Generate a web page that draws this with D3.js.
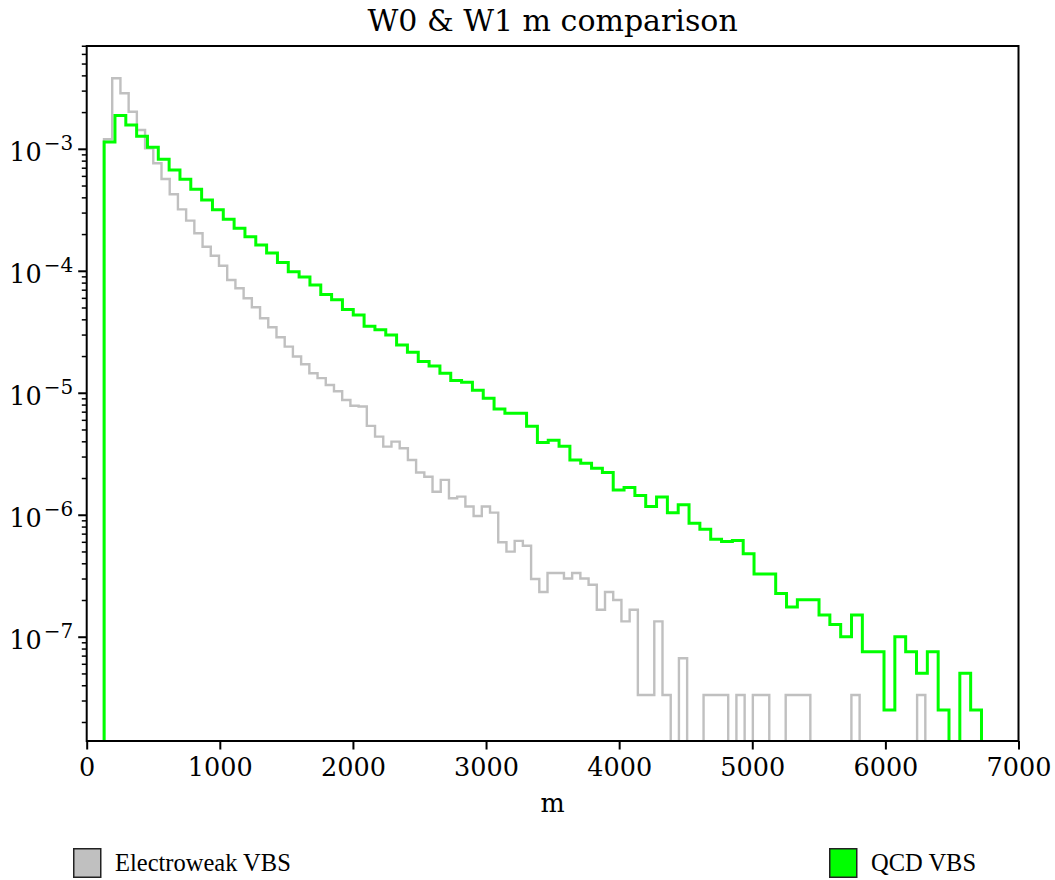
<!DOCTYPE html>
<html>
<head>
<meta charset="utf-8">
<script src="https://cdn.jsdelivr.net/npm/d3@7"></script>
<style>
  html, body { margin: 0; padding: 0; background: #ffffff; }
  svg { display: block; }
</style>
</head>
<body>
<svg id="chart" width="1055" height="880"></svg>
<script>
// Density histograms of the W0 & W1 invariant mass (m), one entry per bin.
const titleText = "W0 & W1 m comparison";
const xLabel = "m";
const xTicks = [0, 1000, 2000, 3000, 4000, 5000, 6000, 7000];
const yMajorExponents = [-3, -4, -5, -6, -7];

// Electroweak VBS: 100 equal bins spanning [ewkStart, ewkEnd]
const ewkStart = 130;
const ewkEnd = 6300;
const ewkDensity = [
  1.21e-3, 3.82e-3, 2.88e-3, 2.03e-3, 1.44e-3, 1.02e-3, 7.68e-4, 5.71e-4, 4.28e-4, 3.22e-4,
  2.60e-4, 2.05e-4, 1.59e-4, 1.34e-4, 1.11e-4, 8.49e-5, 7.26e-5, 6.01e-5, 5.07e-5, 4.12e-5,
  3.48e-5, 2.88e-5, 2.41e-5, 2.00e-5, 1.73e-5, 1.46e-5, 1.33e-5, 1.17e-5, 1.04e-5, 8.8e-6,
  7.9e-6, 7.8e-6, 5.4e-6, 4.41e-6, 3.65e-6, 4.01e-6, 3.54e-6, 2.84e-6, 2.24e-6, 2.07e-6,
  1.56e-6, 1.95e-6, 1.38e-6, 1.42e-6, 1.18e-6, 9.87e-7, 1.18e-6, 1.05e-6, 6.01e-7, 5.03e-7,
  6.16e-7, 5.63e-7, 3.0e-7, 2.35e-7, 3.36e-7, 3.36e-7, 3.03e-7, 3.36e-7, 3.03e-7, 2.69e-7,
  1.68e-7, 2.35e-7, 2.02e-7, 1.35e-7, 1.68e-7, 3.36e-8, 3.36e-8, 1.35e-7, 3.36e-8, 0,
  6.73e-8, 0, 0, 3.36e-8, 3.36e-8, 3.36e-8, 0, 3.36e-8, 0, 3.36e-8,
  3.36e-8, 0, 0, 3.36e-8, 3.36e-8, 3.36e-8, 0, 0, 0, 0,
  0, 3.36e-8, 0, 0, 0, 0, 0, 0, 0, 3.36e-8
];

// QCD VBS: 81 equal bins spanning [qcdStart, qcdEnd]
const qcdStart = 131;
const qcdEnd = 6722;
const qcdDensity = [
  1.15e-3, 1.89e-3, 1.58e-3, 1.28e-3, 1.04e-3, 8.28e-4, 6.77e-4, 5.68e-4, 4.70e-4, 3.84e-4,
  3.20e-4, 2.67e-4, 2.25e-4, 1.92e-4, 1.64e-4, 1.41e-4, 1.18e-4, 9.90e-5, 8.98e-5, 7.72e-5,
  6.45e-5, 5.85e-5, 4.86e-5, 4.38e-5, 3.55e-5, 3.32e-5, 3.00e-5, 2.49e-5, 2.17e-5, 1.82e-5,
  1.67e-5, 1.46e-5, 1.27e-5, 1.23e-5, 1.06e-5, 9.10e-6, 7.43e-6, 6.86e-6, 6.86e-6, 5.36e-6,
  3.95e-6, 4.12e-6, 3.68e-6, 2.84e-6, 2.67e-6, 2.43e-6, 2.24e-6, 1.61e-6, 1.69e-6, 1.45e-6,
  1.18e-6, 1.41e-6, 1.05e-6, 1.22e-6, 8.60e-7, 7.68e-7, 6.36e-7, 6.08e-7, 6.22e-7, 4.84e-7,
  3.30e-7, 3.30e-7, 2.28e-7, 1.77e-7, 2.03e-7, 2.03e-7, 1.52e-7, 1.27e-7, 1.01e-7, 1.52e-7,
  7.6e-8, 7.6e-8, 2.53e-8, 1.01e-7, 7.6e-8, 5.07e-8, 7.6e-8, 2.53e-8, 0, 5.07e-8,
  2.53e-8
];

const legendItems = [
  { label: "Electroweak VBS", color: "#c0c0c0" },
  { label: "QCD VBS", color: "#00ff00" }
];

const svg = d3.select("#chart");
const plot = { left: 86.7, right: 1018.5, top: 46, bottom: 741 };

const x = d3.scaleLinear().domain([0, 7000]).range([plot.left, plot.right]);
const y = d3.scaleLog().domain([1.41e-8, 7.03e-3]).range([plot.bottom, plot.top]);

const serif = "'DejaVu Serif', serif";

svg.append("defs").append("clipPath").attr("id", "plot-clip")
  .append("rect")
  .attr("x", plot.left).attr("y", plot.top)
  .attr("width", plot.right - plot.left).attr("height", plot.bottom - plot.top);

// Step outline of a histogram: up from the baseline, across each bin, back down.
function stepPath(values, start, end) {
  const n = values.length;
  const w = (end - start) / n;
  const floor = 1e-12; // empty bins drop below the visible range
  const yv = v => y(v > 0 ? v : floor);
  const p = d3.path();
  p.moveTo(x(start), yv(floor));
  values.forEach((v, i) => {
    p.lineTo(x(start + i * w), yv(v));
    p.lineTo(x(start + (i + 1) * w), yv(v));
  });
  p.lineTo(x(end), yv(floor));
  return p.toString();
}

const marks = svg.append("g").attr("clip-path", "url(#plot-clip)");
marks.append("path")
  .attr("d", stepPath(ewkDensity, ewkStart, ewkEnd))
  .attr("fill", "none")
  .attr("stroke", "#c0c0c0")
  .attr("stroke-width", 2.4)
  .attr("stroke-linejoin", "miter");
marks.append("path")
  .attr("d", stepPath(qcdDensity, qcdStart, qcdEnd))
  .attr("fill", "none")
  .attr("stroke", "#00ff00")
  .attr("stroke-width", 3)
  .attr("stroke-linejoin", "miter");

// X axis
const xAxis = d3.axisBottom(x).tickValues(xTicks).tickSize(8.5).tickPadding(8).tickFormat(d3.format("d"));
const gx = svg.append("g").attr("transform", `translate(0,${plot.bottom})`).call(xAxis);
gx.select(".domain").remove();
gx.selectAll(".tick line").attr("stroke", "#000").attr("stroke-width", 2);
gx.selectAll(".tick text")
  .attr("font-family", serif).attr("font-size", 25.5).attr("fill", "#000")
  .attr("dy", "0.72em");

// Y axis: minor ticks at 2..9 x 10^k, major ticks at powers of ten
const yMinor = [];
for (let e = -9; e <= -2; e++) {
  for (let m = 2; m <= 9; m++) {
    const v = m * Math.pow(10, e);
    if (v >= y.domain()[0] && v <= y.domain()[1]) yMinor.push(v);
  }
}
const gy = svg.append("g").attr("transform", `translate(${plot.left},0)`);
gy.selectAll("line.minor").data(yMinor).join("line")
  .attr("class", "minor")
  .attr("x1", 0).attr("x2", -4.9)
  .attr("y1", d => y(d)).attr("y2", d => y(d))
  .attr("stroke", "#000").attr("stroke-width", 1.5);
const majors = gy.selectAll("g.major").data(yMajorExponents).join("g")
  .attr("class", "major")
  .attr("transform", d => `translate(0,${y(Math.pow(10, d))})`);
majors.append("line")
  .attr("x1", 0).attr("x2", -8.5)
  .attr("stroke", "#000").attr("stroke-width", 2);
const lbl = majors.append("text")
  .attr("x", -13.5).attr("y", 11.5)
  .attr("text-anchor", "end")
  .attr("font-family", serif).attr("font-size", 25.5).attr("fill", "#000");
lbl.append("tspan").text("10");
lbl.append("tspan").attr("dx", 2).attr("dy", -11).attr("font-size", 20).text(d => "\u2212" + Math.abs(d));

// Frame
svg.append("rect")
  .attr("x", plot.left).attr("y", plot.top)
  .attr("width", plot.right - plot.left).attr("height", plot.bottom - plot.top)
  .attr("fill", "none").attr("stroke", "#000").attr("stroke-width", 2);

// Title and axis label
svg.append("text")
  .attr("x", (plot.left + plot.right) / 2).attr("y", 31)
  .attr("text-anchor", "middle")
  .attr("font-family", serif).attr("font-size", 30).attr("fill", "#000")
  .text(titleText);
svg.append("text")
  .attr("x", (plot.left + plot.right) / 2).attr("y", 812)
  .attr("text-anchor", "middle")
  .attr("font-family", serif).attr("font-size", 25.5).attr("fill", "#000")
  .text(xLabel);

// Legend below the axes
const legendX = [73, 829];
const leg = svg.selectAll("g.legend").data(legendItems).join("g")
  .attr("class", "legend")
  .attr("transform", (d, i) => `translate(${legendX[i]},848)`);
leg.append("rect")
  .attr("x", 0.75).attr("y", 0.75).attr("width", 27).attr("height", 28.5)
  .attr("fill", d => d.color).attr("stroke", "#222").attr("stroke-width", 1.5);
leg.append("text")
  .attr("x", 42).attr("y", 23)
  .attr("font-family", "'Liberation Serif', serif").attr("font-size", 24.5).attr("fill", "#000")
  .text(d => d.label);
</script>
</body>
</html>
